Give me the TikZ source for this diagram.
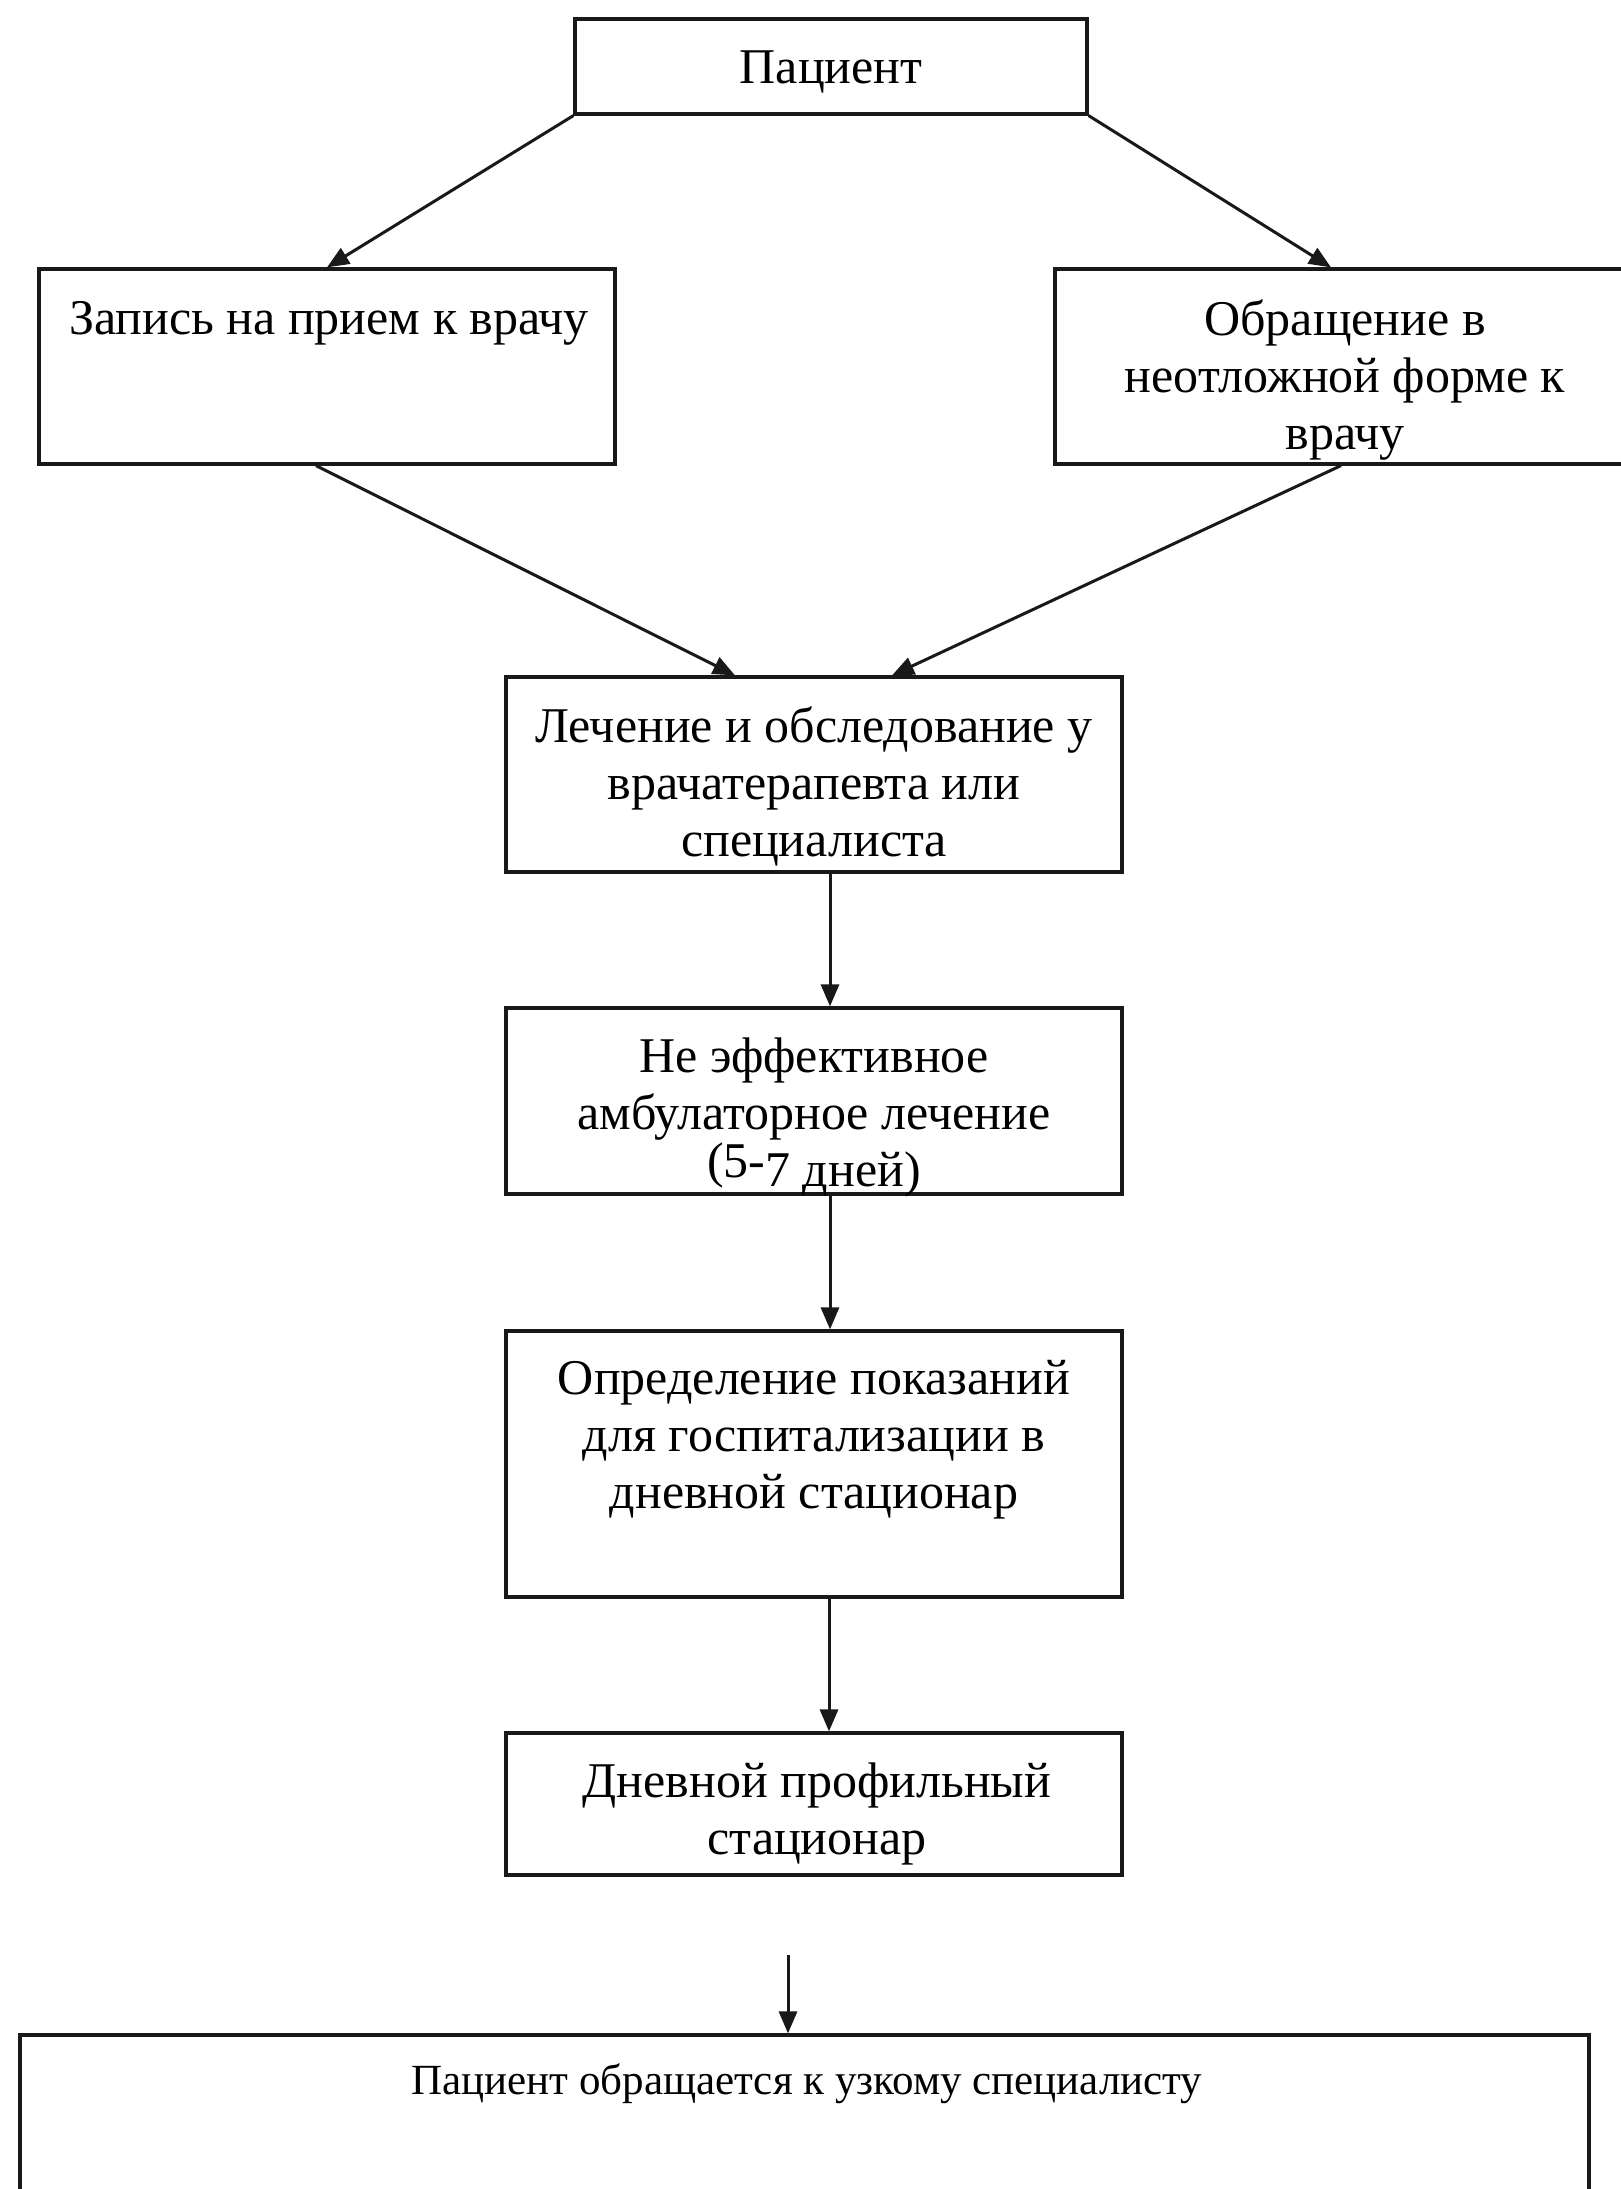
\documentclass[tikz,border=0pt]{standalone}
\usepackage{fontspec}
\setmainfont{Liberation Serif}
\usetikzlibrary{arrows.meta}
\begin{document}
\begin{tikzpicture}[x=1pt,y=-1pt,
  box/.style={draw=black!90, line width=3.2pt, rectangle, inner sep=0pt},
  txt/.style={inner sep=0pt, align=center, anchor=base, font=\fontsize{50}{57}\selectfont},
  small/.style={inner sep=0pt, align=center, anchor=base, font=\fontsize{43}{50}\selectfont},
  arr/.style={draw=black!90, line width=3pt, -{Triangle[length=22pt,width=18pt]}}]
\useasboundingbox (0,0) rectangle (1621,2189);
% boxes
\node[box, minimum width=512pt, minimum height=95pt] (pac) at (831,66.5) {};
\node[box, minimum width=576pt, minimum height=195pt] (zap) at (327,366.5) {};
\node[box, minimum width=580pt, minimum height=195pt] (obr) at (1345,366.5) {};
\node[box, minimum width=616pt, minimum height=195pt] (lech) at (814,774.5) {};
\node[box, minimum width=616pt, minimum height=186pt] (neef) at (814,1101) {};
\node[box, minimum width=616pt, minimum height=266pt] (opr) at (814,1464) {};
\node[box, minimum width=616pt, minimum height=142pt] (dnev) at (814,1804) {};
\node[box, minimum width=1569pt, minimum height=170pt] (bot) at (804.5,2120) {};
% texts (anchor = baseline of the last line)
\node[txt] (tpac) at (831,84) {Пациент};
\node[txt] (tzap) at (329,334) {Запись на прием к врачу};
\node[txt] (tobr) at (1345,449) {Обращение в\\неотложной форме к\\врачу};
\node[txt] (tlech) at (814,856) {Лечение и обследование у\\врачатерапевта или\\специалиста};
\node[txt] (tneef) at (814,1186) {Не эффективное\\амбулаторное лечение\\\raisebox{9pt}{(5-}7 дней)};
\node[txt] (topr) at (814,1508) {Определение показаний\\для госпитализации в\\дневной стационар};
\node[txt] (tdnev) at (817,1854) {Дневной профильный\\стационар};
\node[small] (tbot) at (807,2094) {Пациент обращается к узкому специалисту};
% connectors
\draw[arr] (pac.south west) -- (zap.north);
\draw[arr] (pac.south east) -- ([xshift=-14pt]obr.north);
\draw[arr] ([xshift=-11pt]zap.south) -- ([xshift=-79pt]lech.north);
\draw[arr] ([xshift=-4pt]obr.south) -- ([xshift=78pt]lech.north);
\draw[arr] ([xshift=16pt]lech.south) -- ([xshift=16pt]neef.north);
\draw[arr] ([xshift=16pt]neef.south) -- ([xshift=16pt]opr.north);
\draw[arr] ([xshift=15pt]opr.south) -- ([xshift=15pt]dnev.north);
\coordinate (free) at (788,1955);
\draw[arr] (free) -- (bot.north -| free);
\end{tikzpicture}
\end{document}
